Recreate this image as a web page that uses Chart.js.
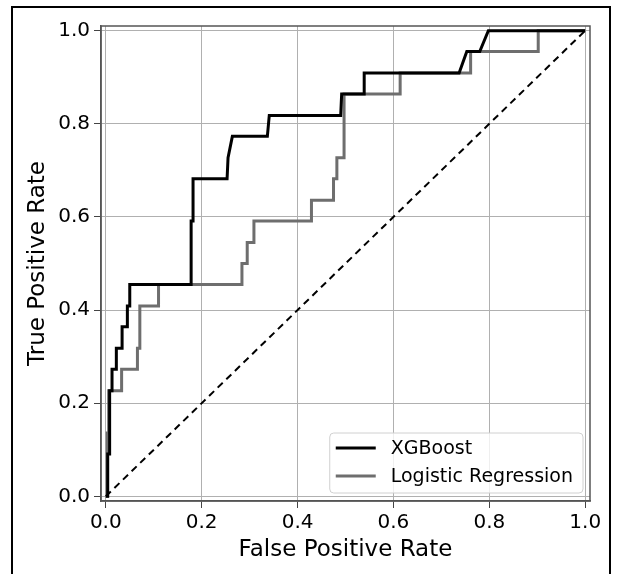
<!DOCTYPE html>
<html>
<head>
<meta charset="utf-8">
<script src="https://cdn.jsdelivr.net/npm/chart.js@4.4.1/dist/chart.umd.min.js"></script>
<style>
  body { margin: 0; background: #fff; }
  #wrap { position: relative; width: 620px; height: 574px; }
  #frame { position: absolute; left: 11px; top: 6px; width: 596px; height: 580px;
           border: 2px solid #000; border-bottom: none; pointer-events: none; }
  canvas { position: absolute; left: 0; top: 0; }
</style>
</head>
<body>
<div id="wrap">
  <canvas id="roc" width="620" height="574"></canvas>
  <div id="frame"></div>
</div>
<script>
// ROC curve points
const xgbFpr = [0, 0.004, 0.004, 0.008, 0.008, 0.013, 0.013, 0.022, 0.022, 0.034, 0.034, 0.045, 0.045, 0.05, 0.05,
  0.178, 0.178, 0.182, 0.182, 0.253, 0.255, 0.264, 0.337, 0.341, 0.49, 0.492, 0.539, 0.539, 0.737, 0.753, 0.78, 0.798, 1];
const xgbTpr = [0, 0, 0.091, 0.091, 0.227, 0.227, 0.273, 0.273, 0.318, 0.318, 0.364, 0.364, 0.409, 0.409, 0.455,
  0.455, 0.591, 0.591, 0.682, 0.682, 0.727, 0.773, 0.773, 0.818, 0.818, 0.864, 0.864, 0.909, 0.909, 0.955, 0.955, 1, 1];

const lrFpr = [0, 0.003, 0.003, 0.006, 0.006, 0.033, 0.033, 0.066, 0.066, 0.071, 0.071, 0.11, 0.11, 0.284, 0.284,
  0.295, 0.295, 0.309, 0.309, 0.429, 0.429, 0.475, 0.475, 0.482, 0.482, 0.497, 0.497, 0.614, 0.614, 0.761, 0.761, 0.902, 0.902, 1];
const lrTpr = [0, 0, 0.136, 0.136, 0.227, 0.227, 0.273, 0.273, 0.318, 0.318, 0.409, 0.409, 0.455, 0.455, 0.5,
  0.5, 0.545, 0.545, 0.591, 0.591, 0.636, 0.636, 0.682, 0.682, 0.727, 0.727, 0.864, 0.864, 0.909, 0.909, 0.955, 0.955, 1, 1];

const chanceFpr = [0, 1];
const chanceTpr = [0, 1];

const tickValues = [0, 0.2, 0.4, 0.6, 0.8, 1.0];
const tickLabels = ['0.0', '0.2', '0.4', '0.6', '0.8', '1.0'];

function zip(xs, ys) {
  return xs.map((x, i) => ({x: x, y: ys[i]}));
}

const FONT = "'DejaVu Sans', sans-serif";

// box around plot + legend in lower right
const boxPlugin = {
  id: 'boxAndLegend',
  afterDraw(chart) {
    const ctx = chart.ctx;
    const a = chart.chartArea;
    ctx.save();
    ctx.strokeStyle = '#555';
    ctx.lineWidth = 1.5;
    ctx.strokeRect(a.left, a.top, a.right - a.left, a.bottom - a.top);

    const items = chart.data.datasets.filter(d => d.showInLegend);
    ctx.font = '19px ' + FONT;
    let tw = 0;
    items.forEach(d => { tw = Math.max(tw, ctx.measureText(d.label).width); });
    const w = 6 + 40 + 15 + tw + 10;
    const rowH = 28;
    const h = items.length * rowH + 4;
    const x0 = a.right - 7 - w;
    const y0 = a.bottom - 8 - h;
    ctx.beginPath();
    ctx.roundRect(x0, y0, w, h, 4);
    ctx.fillStyle = 'rgba(255,255,255,0.8)';
    ctx.fill();
    ctx.strokeStyle = '#d0d0d0';
    ctx.lineWidth = 1;
    ctx.stroke();
    items.forEach((d, i) => {
      const cy = y0 + 15 + i * rowH;
      ctx.beginPath();
      ctx.moveTo(x0 + 6, cy);
      ctx.lineTo(x0 + 46, cy);
      ctx.strokeStyle = d.borderColor;
      ctx.lineWidth = 3;
      ctx.stroke();
      ctx.fillStyle = '#000';
      ctx.textBaseline = 'middle';
      ctx.textAlign = 'left';
      ctx.fillText(d.label, x0 + 61, cy + 1);
    });
    ctx.restore();
  }
};

const ctx = document.getElementById('roc').getContext('2d');
const rocChart = new Chart(ctx, {
  type: 'scatter',
  data: {
    datasets: [{
      label: 'XGBoost',
      data: zip(xgbFpr, xgbTpr),
      showLine: true,
      showInLegend: true,
      borderColor: '#000000',
      borderWidth: 3,
      pointRadius: 0,
      order: 1
    }, {
      label: 'Logistic Regression',
      data: zip(lrFpr, lrTpr),
      showLine: true,
      showInLegend: true,
      borderColor: '#6e6e6e',
      borderWidth: 3,
      pointRadius: 0,
      order: 2
    }, {
      label: 'chance',
      data: zip(chanceFpr, chanceTpr),
      showLine: true,
      borderColor: '#000000',
      borderWidth: 2,
      borderDash: [7, 5],
      pointRadius: 0,
      order: 0
    }]
  },
  options: {
    responsive: false,
    animation: false,
    layout: { padding: { left: 0, top: 26, right: 30, bottom: 0 } },
    plugins: {
      legend: { display: false },
      tooltip: { enabled: false }
    },
    scales: {
      x: {
        type: 'linear',
        min: -0.01,
        max: 1.01,
        afterBuildTicks: s => { s.ticks = tickValues.map(v => ({value: v})); },
        afterFit: s => { s.height = 73; },
        ticks: {
          callback: (v, i) => tickLabels[i],
          font: { family: FONT, size: 20 },
          color: '#000',
          padding: 3,
          maxRotation: 0
        },
        grid: { color: '#b0b0b0', lineWidth: 1, tickLength: 7, tickColor: '#444' },
        border: { color: '#555', width: 1.5 },
        title: {
          display: true,
          text: 'False Positive Rate',
          font: { family: FONT, size: 23 },
          color: '#000',
          padding: { top: 0, bottom: 10 }
        }
      },
      y: {
        type: 'linear',
        min: -0.01,
        max: 1.01,
        afterBuildTicks: s => { s.ticks = tickValues.map(v => ({value: v})); },
        afterFit: s => { s.width = 101; },
        ticks: {
          callback: (v, i) => tickLabels[i],
          font: { family: FONT, size: 20 },
          color: '#000',
          padding: 4
        },
        grid: { color: '#b0b0b0', lineWidth: 1, tickLength: 7, tickColor: '#444' },
        border: { color: '#555', width: 1.5 },
        title: {
          display: true,
          text: 'True Positive Rate',
          font: { family: FONT, size: 23 },
          color: '#000',
          padding: { top: 24, bottom: 0 }
        }
      }
    }
  },
  plugins: [boxPlugin]
});
</script>
</body>
</html>
